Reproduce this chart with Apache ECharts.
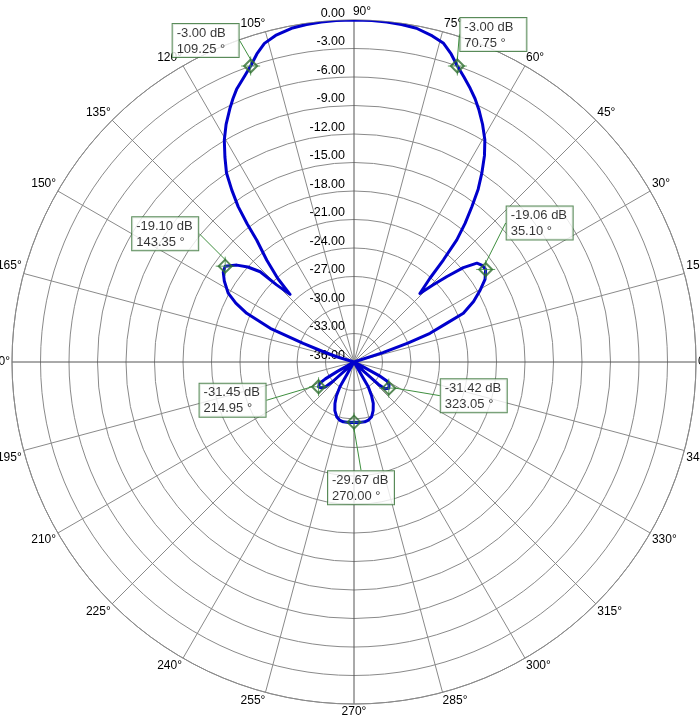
<!DOCTYPE html>
<html>
<head>
<meta charset="utf-8">
<title>Antenna pattern</title>
<script src="https://cdn.jsdelivr.net/npm/echarts@6/dist/echarts.min.js"></script>
<style>
html, body { margin: 0; padding: 0; background: #fff; }
#main { width: 700px; height: 722px; }
</style>
</head>
<body>
<div id="main"></div>
<script>
// pattern trace: angle (deg) and level (dB); nulls are drawn on the -36 floor
var patternAngle = [0, 17, 18, 19.3, 20.7, 22.7, 24, 26.8, 29.7, 32.2, 35.1, 37, 38.8, 40.8, 42.6, 44.3, 46.1,
    47.8, 48.8, 49.9, 51.3, 52.8, 54.3, 55.9, 57.7, 59.5, 61.6, 63.7, 65.3, 67, 68.9, 70.75, 72.5, 74.3,
    76.5, 79.4, 82, 84.5, 87, 90, 93, 95.5, 98, 100.6, 103.5, 105.7, 107.5, 109.25, 111.1, 113.3, 114.7,
    116.1, 118.3, 120.3, 122.2, 124, 125.4, 126.7, 127.7, 128.6, 130.6,
    132.4, 133.4, 135.1, 136.1, 138.2, 140.4, 143.35, 145.5, 148, 151.3, 153.5, 155.6, 158.1, 159.8,
    161.5, 163, 164, 208, 209.5, 210.5, 212, 214.95, 218, 221, 222.5, 223.5, 225, 237, 240.4, 242.5,
    245.3, 248.5, 252.4, 256, 259.8, 265, 270, 275, 280.2, 284, 287.9, 291.5, 295, 297.5, 300, 303, 315, 316.5,
    317.5, 319, 323.05, 327, 330, 331.5, 332.5, 334, 360];
var patternDb = [-36, -36, -32.8, -30, -27.45, -25.4, -23.4, -21.9, -20.7, -19.7, -19.06, -19.1, -19.4, -20.8, -22.7, -24.4, -26.0,
    -24.1, -21.7, -19.2, -17.3, -15.48, -13.6, -12.0, -10.3, -8.86, -7.55, -6.35, -5.5, -4.7, -3.85, -3.0, -2.0, -1.16,
    -0.7, -0.26, -0.12, -0.05, -0.01, 0, -0.01, -0.05, -0.12, -0.26, -0.65, -1.16, -2.0, -3.0, -3.85, -4.75, -5.5,
    -6.3, -7.6, -8.94, -10.5, -12.0, -13.8, -15.6, -17.6, -19.6, -21.9,
    -24.1, -26.2, -24.5, -22.3, -21.0, -20.0, -19.1, -19.3, -19.9, -20.9, -22.1, -23.6, -26.5, -30.3,
    -32.6, -34.1, -36, -36, -34, -32.5, -31.7, -31.45, -31.6, -32.0, -33, -35, -36, -36, -33, -32,
    -31.2, -30.5, -29.96, -29.7, -29.6, -29.6, -29.67, -29.6, -29.6, -29.7, -29.95, -30.5, -31.2, -32, -33, -36, -36, -34.5,
    -32.5, -31.7, -31.42, -31.6, -32.0, -33, -35, -36, -36];

// marker readouts
var markerAngle = [70.75, 109.25, 35.10, 143.35, 214.95, 270.00, 323.05];
var markerDb = [-3.00, -3.00, -19.06, -19.10, -31.45, -29.67, -31.42];

// scale
var dbMin = -36, dbMax = 0, dbStep = 3;
var angleStep = 15;

// where each readout box sits relative to its marker (box top-left)
var boxShift = [[3, -48], [-78, -42], [21, -63], [-93, -49], [-119, -3], [-26, 49], [52, -9]];

var FONT = 'Liberation Sans, Arial, sans-serif';
var GRID = '#8a8a8a';
var AXIS = '#555555';
var GREEN = '#2f6e2f';

function tickStyle(v) {
    // nudge the angle labels so they hang off the spoke ends like the original
    if (v === 90) return 'r90';
    if (v === 75) return 'r2';
    if (v === 285) return 'r3';
    if (v === 105 || v === 255) return 'l3';
    if (v === 15 || v === 165) return 'u';
    if (v === 195 || v === 345) return 'd';
    return 'n';
}
var base = {fontSize: 12, color: '#000', fontFamily: FONT};
function rs(pad) { return Object.assign({padding: pad}, base); }

var splitColors = [AXIS];
for (var k = 1; k < 90 / angleStep; k++) splitColors.push(GRID);

var myChart = echarts.init(document.getElementById('main'), null, {renderer: 'canvas'});

var patternData = patternAngle.map(function (a, i) { return [patternDb[i], a]; });
var markerData = markerAngle.map(function (a, i) { return [markerDb[i], a]; });

myChart.setOption({
    animation: false,
    backgroundColor: '#fff',
    polar: [
        {center: [354, 362], radius: 342},
        {center: [354, 362], radius: 342}
    ],
    angleAxis: [
        {
            polarIndex: 0,
            type: 'value',
            min: 0,
            max: 360,
            interval: angleStep,
            startAngle: 0,
            clockwise: false,
            axisLine: {show: true, lineStyle: {color: GRID, width: 1}},
            axisTick: {show: false},
            splitLine: {show: true, lineStyle: {color: splitColors, width: 1}},
            axisLabel: {
                show: true,
                margin: 2,
                formatter: function (v) { return '{' + tickStyle(v) + '|' + v + '°}'; },
                rich: {
                    n: rs(0),
                    r90: rs([0, 0, 0, 16]),
                    r2: rs([0, 0, 0, 20]),
                    r3: rs([0, 0, 0, 24]),
                    l3: rs([0, 24, 0, 0]),
                    u: rs([0, 0, 14, 0]),
                    d: rs([14, 0, 0, 0])
                }
            }
        },
        {
            polarIndex: 1,
            type: 'value',
            min: 0,
            max: 360,
            startAngle: 90,
            show: false
        }
    ],
    radiusAxis: [
        {
            polarIndex: 0,
            type: 'value',
            min: dbMin,
            max: dbMax,
            interval: dbStep,
            axisLine: {show: false},
            axisTick: {show: false},
            axisLabel: {show: false},
            splitLine: {show: true, lineStyle: {color: GRID, width: 1}}
        },
        {
            polarIndex: 1,
            type: 'value',
            min: dbMin,
            max: dbMax,
            interval: dbStep,
            axisLine: {show: false},
            axisTick: {show: false},
            splitLine: {show: false},
            axisLabel: {
                show: true,
                margin: 9,
                align: 'right',
                verticalAlign: 'bottom',
                color: '#000',
                fontSize: 12.5,
                fontFamily: FONT,
                formatter: function (v) { return v.toFixed(2); }
            }
        }
    ],
    series: [
        {
            type: 'line',
            coordinateSystem: 'polar',
            polarIndex: 0,
            data: patternData,
            showSymbol: false,
            smooth: false,
            lineStyle: {color: '#0000cc', width: 3, cap: 'round', join: 'round'},
            z: 3
        },
        {
            // cross hairs behind the diamonds
            type: 'scatter',
            coordinateSystem: 'polar',
            polarIndex: 0,
            data: markerData,
            symbol: 'path://M0 10 L20 10 M10 0 L10 20',
            symbolSize: 19,
            itemStyle: {color: 'rgba(0,0,0,0)', borderColor: '#3f8f3f', borderWidth: 1},
            z: 4
        },
        {
            type: 'scatter',
            coordinateSystem: 'polar',
            polarIndex: 0,
            data: markerData,
            symbol: 'diamond',
            symbolSize: 13,
            itemStyle: {color: 'rgba(0,0,0,0)', borderColor: GREEN, borderWidth: 2},
            label: {
                show: true,
                position: 'inside',
                align: 'left',
                verticalAlign: 'top',
                formatter: function (p) {
                    return p.value[0].toFixed(2) + ' dB\n' + p.value[1].toFixed(2) + ' °';
                },
                color: '#000',
                fontSize: 13,
                fontFamily: FONT,
                lineHeight: 16,
                backgroundColor: '#fff',
                borderColor: GREEN,
                borderWidth: 1,
                padding: [1, 4, 0, 4],
                width: 58
            },
            labelLine: {show: true, lineStyle: {color: '#3f8f3f', width: 1}},
            labelLayout: function (p) {
                var s = boxShift[p.dataIndex];
                return {dx: s[0], dy: s[1]};
            },
            z: 5
        }
    ]
});
</script>
</body>
</html>
